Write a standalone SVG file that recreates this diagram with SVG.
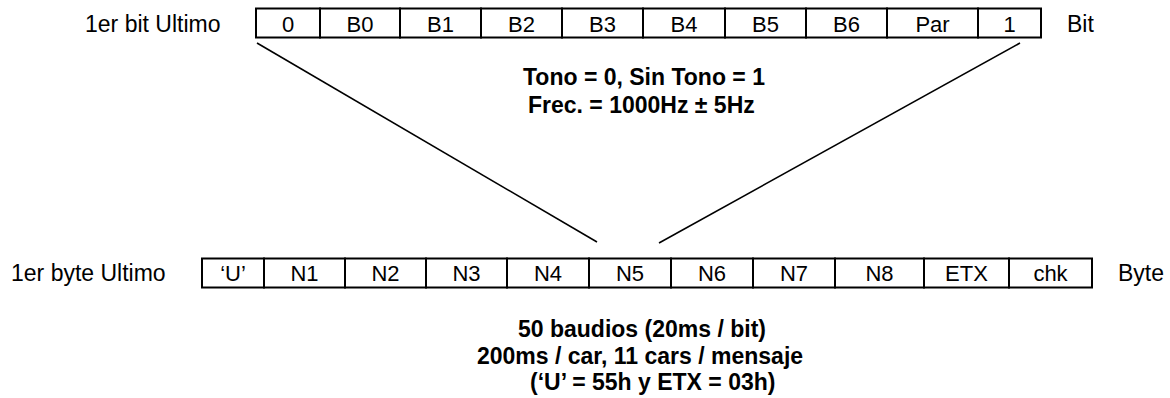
<svg xmlns="http://www.w3.org/2000/svg" width="1170" height="398" viewBox="0 0 1170 398">
<style>
.cell{fill:#fff;stroke:#000;stroke-width:2}
.ct{font-family:"Liberation Sans",Arial,sans-serif;font-size:22px;fill:#000;text-anchor:middle}
.lb{font-family:"Liberation Sans",Arial,sans-serif;font-size:23px;fill:#000}
.bd{font-family:"Liberation Sans",Arial,sans-serif;font-size:23px;font-weight:bold;fill:#000}
.ln{stroke:#000;stroke-width:1.6;fill:none}
</style>
<rect width="1170" height="398" fill="#fff"/>
<g id="connectors">
<line class="ln" x1="257" y1="43" x2="597" y2="242"/>
<line class="ln" x1="1020" y1="43" x2="659" y2="243"/>
</g>
<g id="bit-row">
<text class="lb" x="85" y="32">1er bit Ultimo</text>
<g id="bit-0"><rect class="cell" x="256" y="8.5" width="64" height="29"/><text class="ct" x="288" y="32">0</text></g>
<g id="bit-B0"><rect class="cell" x="320" y="8.5" width="80" height="29"/><text class="ct" x="360" y="32">B0</text></g>
<g id="bit-B1"><rect class="cell" x="400" y="8.5" width="81" height="29"/><text class="ct" x="440.5" y="32">B1</text></g>
<g id="bit-B2"><rect class="cell" x="481" y="8.5" width="81" height="29"/><text class="ct" x="521.5" y="32">B2</text></g>
<g id="bit-B3"><rect class="cell" x="562" y="8.5" width="81" height="29"/><text class="ct" x="602.5" y="32">B3</text></g>
<g id="bit-B4"><rect class="cell" x="643" y="8.5" width="82" height="29"/><text class="ct" x="684" y="32">B4</text></g>
<g id="bit-B5"><rect class="cell" x="725" y="8.5" width="81" height="29"/><text class="ct" x="765.5" y="32">B5</text></g>
<g id="bit-B6"><rect class="cell" x="806" y="8.5" width="81" height="29"/><text class="ct" x="846.5" y="32">B6</text></g>
<g id="bit-Par"><rect class="cell" x="887" y="8.5" width="91" height="29"/><text class="ct" x="932.5" y="32">Par</text></g>
<g id="bit-1"><rect class="cell" x="978" y="8.5" width="63" height="29"/><text class="ct" x="1009.5" y="32">1</text></g>
<text class="lb" x="1067" y="32">Bit</text>
</g>
<g id="bit-note">
<text class="bd" x="523" y="85">Tono = 0, Sin Tono = 1</text>
<text class="bd" x="528" y="113">Frec. = 1000Hz ± 5Hz</text>
</g>
<g id="byte-row">
<text class="lb" x="11" y="281">1er byte Ultimo</text>
<g id="byte-U"><rect class="cell" x="202" y="258.5" width="62" height="29"/><text class="ct" x="233" y="281">‘U’</text></g>
<g id="byte-N1"><rect class="cell" x="264" y="258.5" width="81" height="29"/><text class="ct" x="304.5" y="281">N1</text></g>
<g id="byte-N2"><rect class="cell" x="345" y="258.5" width="81" height="29"/><text class="ct" x="385.5" y="281">N2</text></g>
<g id="byte-N3"><rect class="cell" x="426" y="258.5" width="81" height="29"/><text class="ct" x="466.5" y="281">N3</text></g>
<g id="byte-N4"><rect class="cell" x="507" y="258.5" width="82" height="29"/><text class="ct" x="548" y="281">N4</text></g>
<g id="byte-N5"><rect class="cell" x="589" y="258.5" width="82" height="29"/><text class="ct" x="630" y="281">N5</text></g>
<g id="byte-N6"><rect class="cell" x="671" y="258.5" width="82" height="29"/><text class="ct" x="712" y="281">N6</text></g>
<g id="byte-N7"><rect class="cell" x="753" y="258.5" width="82" height="29"/><text class="ct" x="794" y="281">N7</text></g>
<g id="byte-N8"><rect class="cell" x="835" y="258.5" width="89" height="29"/><text class="ct" x="879.5" y="281">N8</text></g>
<g id="byte-ETX"><rect class="cell" x="924" y="258.5" width="85" height="29"/><text class="ct" x="966.5" y="281">ETX</text></g>
<g id="byte-chk"><rect class="cell" x="1009" y="258.5" width="83" height="29"/><text class="ct" x="1050.5" y="281">chk</text></g>
<text class="lb" x="1118" y="281">Byte</text>
</g>
<g id="byte-note">
<text class="bd" x="518" y="337">50 baudios (20ms / bit)</text>
<text class="bd" x="477" y="364">200ms / car, 11 cars / mensaje</text>
<text class="bd" x="530" y="390">(‘U’ = 55h y ETX = 03h)</text>
</g>
</svg>
